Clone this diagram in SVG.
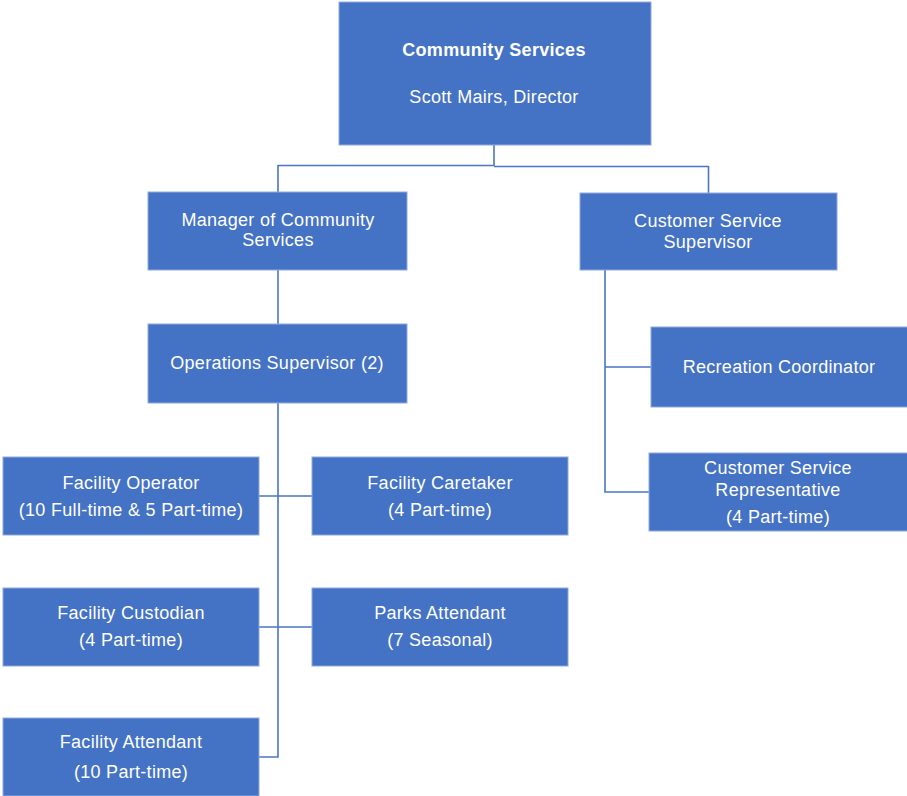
<svg xmlns="http://www.w3.org/2000/svg" width="907" height="796" viewBox="0 0 907 796">
<style>
.box{fill:#4472C4;stroke:#8FAADC;stroke-width:1}
.t{font-family:"Liberation Sans",Arial,sans-serif;font-size:18px;fill:#FFFFFF;text-anchor:middle;letter-spacing:0.3px}
.b{font-weight:bold}
.c{fill:none;stroke:#4A76C5;stroke-width:1.6}
</style>
<rect width="907" height="796" fill="#FFFFFF"/>
<g id="connectors">
<path class="c" d="M494,145 V166 M278,165.5 H494 M494,166.5 H708.5 M278,165 V192 M708.5,166 V193"/>
<path class="c" d="M278,270 V324"/>
<path class="c" d="M278,403 V757 H259 M259,496 H312 M259,627 H312"/>
<path class="c" d="M605,270 V492 H649 M605,367 H651"/>
</g>
<g id="n-director">
<rect class="box" x="339" y="2" width="312" height="143"/>
<text class="t b" x="494" y="56">Community Services</text>
<text class="t" x="494" y="103">Scott Mairs, Director</text>
</g>
<g id="n-manager">
<rect class="box" x="148" y="192" width="259" height="78"/>
<text class="t" x="278" y="226">Manager of Community</text>
<text class="t" x="278" y="246">Services</text>
</g>
<g id="n-css">
<rect class="box" x="580" y="193" width="257" height="77"/>
<text class="t" x="708" y="227">Customer Service</text>
<text class="t" x="708" y="248">Supervisor</text>
</g>
<g id="n-ops">
<rect class="box" x="148" y="324" width="259" height="79"/>
<text class="t" x="277" y="369">Operations Supervisor (2)</text>
</g>
<g id="n-recreation">
<rect class="box" x="651" y="327" width="257" height="80"/>
<text class="t" x="779" y="373">Recreation Coordinator</text>
</g>
<g id="n-csr">
<rect class="box" x="649" y="453" width="259" height="78"/>
<text class="t" x="778" y="474">Customer Service</text>
<text class="t" x="778" y="496">Representative</text>
<text class="t" x="778" y="523">(4 Part-time)</text>
</g>
<g id="n-operator">
<rect class="box" x="3" y="457" width="256" height="78"/>
<text class="t" x="131" y="489">Facility Operator</text>
<text class="t" x="131" y="516">(10 Full-time &amp; 5 Part-time)</text>
</g>
<g id="n-caretaker">
<rect class="box" x="312" y="457" width="256" height="78"/>
<text class="t" x="440" y="489">Facility Caretaker</text>
<text class="t" x="440" y="516">(4 Part-time)</text>
</g>
<g id="n-custodian">
<rect class="box" x="3" y="588" width="256" height="78"/>
<text class="t" x="131" y="619">Facility Custodian</text>
<text class="t" x="131" y="646">(4 Part-time)</text>
</g>
<g id="n-parks">
<rect class="box" x="312" y="588" width="256" height="78"/>
<text class="t" x="440" y="619">Parks Attendant</text>
<text class="t" x="440" y="646">(7 Seasonal)</text>
</g>
<g id="n-attendant">
<rect class="box" x="3" y="718" width="256" height="78"/>
<text class="t" x="131" y="748">Facility Attendant</text>
<text class="t" x="131" y="778">(10 Part-time)</text>
</g>
</svg>
